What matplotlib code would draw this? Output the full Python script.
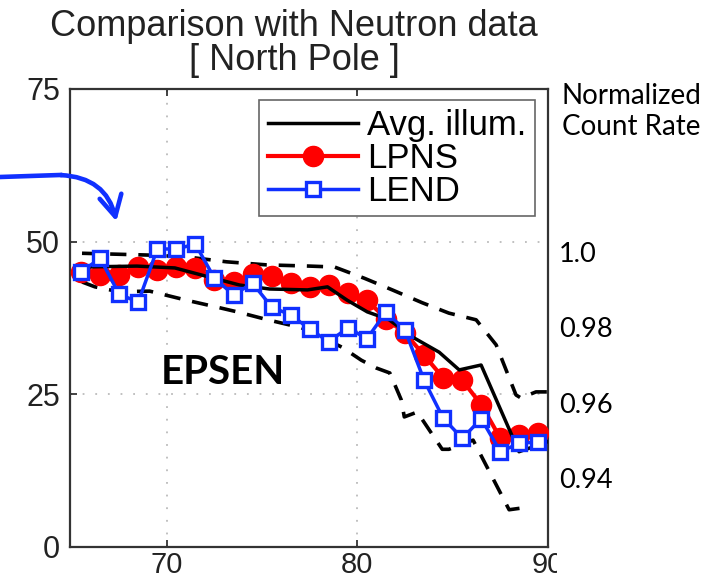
import matplotlib
matplotlib.use('Agg')
import matplotlib.pyplot as plt
from matplotlib.patches import FancyArrowPatch
from matplotlib.lines import Line2D
from matplotlib.transforms import Bbox, TransformedBbox

# =========================
# Data
# =========================
lat = [65.5, 66.5, 67.5, 68.5, 69.5, 70.5, 71.5, 72.5, 73.5, 74.5, 75.5, 76.5, 77.5,
       78.5, 79.5, 80.5, 81.5, 82.5, 83.5, 84.5, 85.5, 86.5, 87.5, 88.5, 89.5]
lpns = [45.0, 44.5, 44.5, 45.8, 45.4, 45.8, 45.7, 43.7, 43.4, 44.7, 44.4, 43.2, 42.6,
        42.9, 41.6, 40.4, 37.4, 35.0, 31.4, 27.7, 27.3, 23.3, 17.8, 18.3, 18.7]
lend = [45.0, 47.3, 41.4, 40.1, 48.8, 48.8, 49.6, 44.0, 41.3, 43.2, 39.3, 38.0, 35.7,
        33.6, 35.9, 34.1, 38.5, 35.5, 27.3, 21.1, 17.8, 21.0, 15.6, 17.0, 17.2]

illum_lat = [65.44, 68.43, 70.42, 72.41, 73.82, 75.39, 77.38, 78.43, 79.47, 80.52,
             81.15, 81.67, 82.88, 84.29, 85.34, 86.49, 88.48, 89.95]
illum = [45.85, 46.0, 45.7, 44.05, 42.9, 42.25, 42.1, 42.6, 40.4, 38.5,
         37.8, 37.2, 34.4, 31.9, 29.0, 29.8, 15.6, 17.2]

upper_lat = [65.55, 69.11, 71.05, 73.14, 75.23, 77.49, 78.8, 80.37, 81.83, 83.4,
             84.8, 86.23, 87.28, 88.32, 88.58, 89.37, 89.95]
upper = [48.1, 47.8, 47.5, 46.7, 46.2, 46.0, 45.85, 44.0, 42.1, 40.0,
         38.3, 37.2, 33.1, 24.9, 24.4, 25.4, 25.4]

lower_lat = [65.55, 66.23, 67.5, 69.1, 71.05, 72.6, 73.7, 75.3, 77.07, 78.1, 79.2,
             80.2, 81.0, 81.7, 82.3, 82.46, 83.14, 84.45, 84.8, 86.07, 87.96, 88.9]
lower = [43.4, 42.6, 41.8, 41.9, 40.4, 39.3, 38.5, 37.2, 35.9, 34.4, 32.7,
         30.6, 29.3, 28.5, 24.1, 21.3, 22.1, 16.0, 16.0, 17.5, 6.1, 6.5]

xticks = [70, 80, 90]
yticks = [0, 25, 50, 75]
rate_ticks = [0.94, 0.96, 0.98, 1.0]
rate_labels = ['0.94', '0.96', '0.98', '1.0']

W, H = 719, 585
RED = '#ff0000'
BLUE = '#1030ff'
ARIAL = 'Liberation Sans'

fig = plt.figure(figsize=(W / 100, H / 100), dpi=100)
ax = fig.add_axes([70 / W, 38 / H, 478 / W, 458 / H])

# =========================
# Curves
# =========================
dash = (0, (4.5, 3.3))
ax.plot(upper_lat, upper, color='black', lw=2.6, linestyle=dash, zorder=2)
ax.plot(lower_lat, lower, color='black', lw=2.6, linestyle=dash, zorder=2)
h_lpns, = ax.plot(lat, lpns, color=RED, lw=3, marker='o', ms=14.5,
                  mfc=RED, mec=RED, zorder=3)
h_ill, = ax.plot(illum_lat, illum, color='black', lw=2.5, zorder=4)
h_lend, = ax.plot(lat, lend, color=BLUE, lw=2.5, marker='s', ms=10,
                  mfc='white', mec=BLUE, mew=2.4, zorder=5)

ax.set_xlim(64.92, 90)
ax.set_ylim(0, 75)
ax.set_xticks(xticks)
ax.set_yticks(yticks)
ax.grid(True, linestyle=(0, (1, 6)), color='#bbbbbb', lw=1.3)
ax.tick_params(direction='in', top=True, right=True, length=5, width=1.2,
               labelsize=22, colors='#222222', pad=7)
ax.tick_params(axis='x', labelsize=21, pad=3)
for lab in ax.get_xticklabels() + ax.get_yticklabels():
    lab.set_fontfamily(ARIAL)
for s in ax.spines.values():
    s.set_linewidth(1.6)
    s.set_color('#333333')

# "90" is partly hidden in the original
lab90 = ax.xaxis.get_major_ticks()[2].label1
lab90.set_clip_box(TransformedBbox(Bbox.from_extents(0, 0, 557 / W, 1), fig.transFigure))
lab90.set_clip_on(True)

leg = ax.legend([h_ill, h_lpns, h_lend], ['Avg. illum.', 'LPNS', 'LEND'],
                loc='upper right', bbox_to_anchor=(0.9728, 0.976), borderaxespad=0,
                prop={'family': ARIAL, 'size': 25}, fancybox=False, framealpha=1,
                edgecolor='#666666', handlelength=2.6, handletextpad=0.25,
                labelspacing=0.0, borderpad=0.25)
leg.get_frame().set_linewidth(1.2)
leg.set_zorder(10)

# right hand scale
ax2 = ax.twinx()
ax2.set_ylim(0.9217, 1.0433)
ax2.set_yticks(rate_ticks)
ax2.set_yticklabels(rate_labels, fontfamily='Lato', fontsize=19.5)
ax2.tick_params(length=0, pad=8)
for s in ax2.spines.values():
    s.set_visible(False)

fig.text(562 / W, 1 - 83 / H, 'Normalized\nCount Rate', family='Lato', fontsize=20,
         va='top', ha='left', linespacing=1.25)

# title
fig.text(294 / W, 1 - 27 / H, 'Comparison with Neutron data', family=ARIAL,
         fontsize=26, color='#222222', ha='center', va='center')
fig.text(294 / W, 1 - 61 / H, '[ North Pole ]', family=ARIAL,
         fontsize=26, color='#222222', ha='center', va='center')

fig.text(223 / W, 1 - 372 / H, 'EPSEN', family='Lato', fontweight='bold',
         fontsize=29, ha='center', va='center')

# blue arrow
fig.add_artist(Line2D([0, 60 / W], [1 - 177 / H, 1 - 175 / H], transform=fig.transFigure,
                      color=BLUE, lw=3.3))
arr = FancyArrowPatch((58 / W, 1 - 175 / H), (117 / W, 1 - 224 / H),
                      transform=fig.transFigure, connectionstyle='arc3,rad=-0.4',
                      arrowstyle='->,head_length=15,head_width=8', color=BLUE, lw=3.3)
fig.add_artist(arr)

plt.savefig('out.png', dpi=100)
